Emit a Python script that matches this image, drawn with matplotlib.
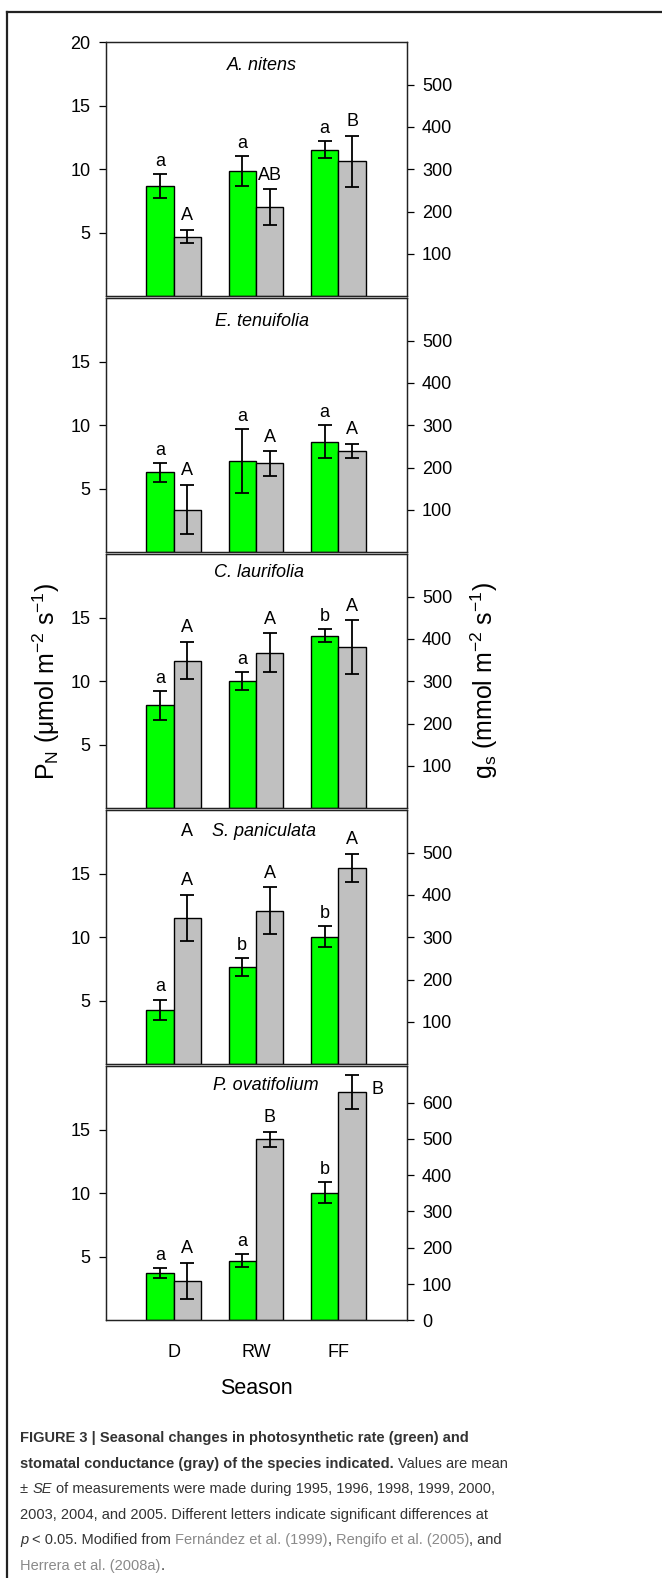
import matplotlib
matplotlib.use('Agg')
import matplotlib.pyplot as plt
from matplotlib import font_manager
from matplotlib.lines import Line2D
import numpy as np

# data
species = ['A. nitens', 'E. tenuifolia', 'C. laurifolia', 'S. paniculata', 'P. ovatifolium']
seasons = ['D', 'RW', 'FF']
pn_mean = [[8.7, 9.85, 11.55], [6.3, 7.2, 8.7], [8.1, 10.0, 13.6], [4.3, 7.65, 10.05], [3.7, 4.7, 10.05]]
pn_se = [[0.95, 1.2, 0.65], [0.75, 2.5, 1.3], [1.15, 0.7, 0.5], [0.8, 0.7, 0.85], [0.4, 0.5, 0.85]]
gs_mean = [[141, 211, 319], [101, 210, 239], [349, 368, 381], [346, 363, 464], [109, 499, 628]]
gs_se = [[16, 42, 60], [58, 29, 17], [44, 45, 63], [55, 55, 33], [50, 21, 47]]
pn_letters = [['a', 'a', 'a'], ['a', 'a', 'a'], ['a', 'a', 'b'], ['a', 'b', 'b'], ['a', 'a', 'b']]
gs_letters = [['A', 'AB', 'B'], ['A', 'A', 'A'], ['A', 'A', 'A'], ['A', 'A', 'A'], ['A', 'B', 'B']]
gs_max = [600, 600, 600, 600, 700]
gs_ticks = [[100, 200, 300, 400, 500]] * 4 + [[0, 100, 200, 300, 400, 500, 600]]
pn_ticks = [[5, 10, 15, 20]] + [[5, 10, 15]] * 4

names = {f.name for f in font_manager.fontManager.ttflist}
FONT = 'Liberation Sans Narrow' if 'Liberation Sans Narrow' in names else 'Liberation Sans'
plt.rcParams['font.family'] = [FONT, 'DejaVu Sans']
plt.rcParams['mathtext.fontset'] = 'custom'
plt.rcParams['mathtext.rm'] = FONT
plt.rcParams['mathtext.it'] = FONT + ':italic'

GREEN = '#00ff00'
GRAY = '#c0c0c0'
EDGE = '#222222'

W, H = 662, 1578
fig = plt.figure(figsize=(W / 100, H / 100), dpi=100)
renderer = fig.canvas.get_renderer()


def measure(s, size, weight='normal', style='normal'):
    t = fig.text(0, 0, s, fontsize=size, fontweight=weight, style=style)
    w = t.get_window_extent(renderer).width
    t.remove()
    return w


def fit(s, target, style='normal'):
    return 12 * target / measure(s, 12, style=style)


# sizes chosen so text widths match the reference whichever font is present
fs = fit('500', 30)
fs_title = fit('A. nitens', 70, style='italic')
fs_season = fit('Season', 73)
fs_lab = fit(r'P$_\mathregular{N}$ ($\mathregular{\mu}$mol m$^\mathregular{-2}$ s$^\mathregular{-1}$)', 198)

left_px, width_px = 105.7, 301
tops = [42.3, 298.3, 554.3, 810.3, 1066.3]
height_px = 254
title_pos = [(0.518, 0.909), (0.518, 0.907), (0.510, 0.93), (0.526, 0.915), (0.532, 0.923)]

x = np.arange(len(seasons))
bw = 0.334

for i in range(5):
    ax = fig.add_axes([left_px / W, 1 - (tops[i] + height_px) / H, width_px / W, height_px / H])
    ax2 = ax.twinx()
    ax.set_xlim(-0.826, 2.831)
    ax.set_ylim(0, 20)
    ax2.set_ylim(0, gs_max[i])

    ax.bar(x - bw / 2, pn_mean[i], bw, color=GREEN, edgecolor='black', linewidth=1)
    ax.errorbar(x - bw / 2, pn_mean[i], yerr=pn_se[i], fmt='none', ecolor='black',
                elinewidth=1.3, capsize=5, capthick=1.3)
    ax2.bar(x + bw / 2, gs_mean[i], bw, color=GRAY, edgecolor='black', linewidth=1)
    ax2.errorbar(x + bw / 2, gs_mean[i], yerr=gs_se[i], fmt='none', ecolor='black',
                 elinewidth=1.3, capsize=5, capthick=1.3)

    for j in range(3):
        ax.annotate(pn_letters[i][j], (x[j] - bw / 2, pn_mean[i][j] + pn_se[i][j]),
                    xytext=(0, 3), textcoords='offset points', ha='center', va='bottom', fontsize=fs)
        if i == 4 and j == 2:
            ax2.annotate(gs_letters[i][j], (x[j] + bw / 2, gs_mean[i][j] + gs_se[i][j]),
                         xytext=(18, -10), textcoords='offset points', ha='center', va='center', fontsize=fs)
        else:
            ax2.annotate(gs_letters[i][j], (x[j] + bw / 2, gs_mean[i][j] + gs_se[i][j]),
                         xytext=(0, 4), textcoords='offset points', ha='center', va='bottom', fontsize=fs)

    ax.text(title_pos[i][0], title_pos[i][1], species[i], transform=ax.transAxes,
            ha='center', va='center', fontsize=fs_title, style='italic')
    if i == 3:
        ax2.text(x[0] + bw / 2, 0.915, 'A', transform=ax2.get_xaxis_transform(),
                 ha='center', va='center', fontsize=fs)

    ax.set_yticks(pn_ticks[i])
    ax2.set_yticks(gs_ticks[i])
    for a in (ax, ax2):
        a.tick_params(axis='y', direction='out', length=5, width=0.9, labelsize=fs, pad=6, colors='black')
        for s in a.spines.values():
            s.set_color(EDGE)
            s.set_linewidth(0.9)
    ax.set_xticks(x)
    if i == 4:
        ax.set_xticklabels(seasons, fontsize=fs)
        ax.tick_params(axis='x', length=0, pad=17)
        ax.set_xlabel('Season', fontsize=fs_season, labelpad=12)
    else:
        ax.tick_params(axis='x', length=0, labelbottom=False)

fig.text(46.7 / W, 1 - 681 / H, r'P$_\mathregular{N}$ ($\mathregular{\mu}$mol m$^\mathregular{-2}$ s$^\mathregular{-1}$)',
         rotation=90, ha='center', va='center', fontsize=fs_lab)
fig.text(484 / W, 1 - 681 / H, r'g$_\mathregular{s}$ (mmol m$^\mathregular{-2}$ s$^\mathregular{-1}$)',
         rotation=90, ha='center', va='center', fontsize=fs_lab)

# outer frame (only top and left edges are visible in the page crop)
fig.add_artist(Line2D([7 / W, 7 / W], [0, 1 - 12 / H], color='#222222', linewidth=1.6))
fig.add_artist(Line2D([7 / W, 1], [1 - 12 / H, 1 - 12 / H], color='#222222', linewidth=1.6))

# caption
TXT = '#333333'
REF = '#8a8a8a'
caption = [
    [('FIGURE 3 | Seasonal changes in photosynthetic rate (green) and', 'bold', 'normal', TXT)],
    [('stomatal conductance (gray) of the species indicated.', 'bold', 'normal', TXT),
     (' Values are mean', 'normal', 'normal', TXT)],
    [('\u00b1 ', 'normal', 'normal', TXT), ('SE', 'normal', 'italic', TXT),
     (' of measurements were made during 1995, 1996, 1998, 1999, 2000,', 'normal', 'normal', TXT)],
    [('2003, 2004, and 2005. Different letters indicate significant differences at', 'normal', 'normal', TXT)],
    [('p', 'normal', 'italic', TXT), (' < 0.05. Modified from ', 'normal', 'normal', TXT),
     ('Fern\u00e1ndez et al. (1999)', 'normal', 'normal', REF), (', ', 'normal', 'normal', TXT),
     ('Rengifo et al. (2005)', 'normal', 'normal', REF), (', and', 'normal', 'normal', TXT)],
    [('Herrera et al. (2008a)', 'normal', 'normal', REF), ('.', 'normal', 'normal', TXT)],
]


def space_width(size, weight, style):
    return measure('x x', size, weight, style) - measure('xx', size, weight, style)


def text_width(s, size, weight, style):
    core = s.strip(' ')
    if not core:
        return space_width(size, weight, style) * len(s)
    n_sp = len(s) - len(core)
    w = measure(core, size, weight, style)
    if n_sp:
        w += space_width(size, weight, style) * n_sp
    return w


cap_fs = 11.7
line2 = sum(text_width(p[0], cap_fs, p[1], p[2]) for p in caption[1])
cap_fs = min(cap_fs, cap_fs * 486 / line2)

x0 = 20
for k, line in enumerate(caption):
    y = 1442 + 25.6 * k
    xp = x0
    for s, weight, style, color in line:
        lead = s[:len(s) - len(s.lstrip(' '))]
        core = s.strip(' ')
        xs = xp + (text_width(lead, cap_fs, weight, style) if lead else 0)
        if core:
            fig.text(xs / W, 1 - y / H, core, fontsize=cap_fs, fontweight=weight,
                     style=style, color=color, ha='left', va='baseline')
        xp += text_width(s, cap_fs, weight, style)

fig.savefig('out.png', dpi=100)
plt.close(fig)
